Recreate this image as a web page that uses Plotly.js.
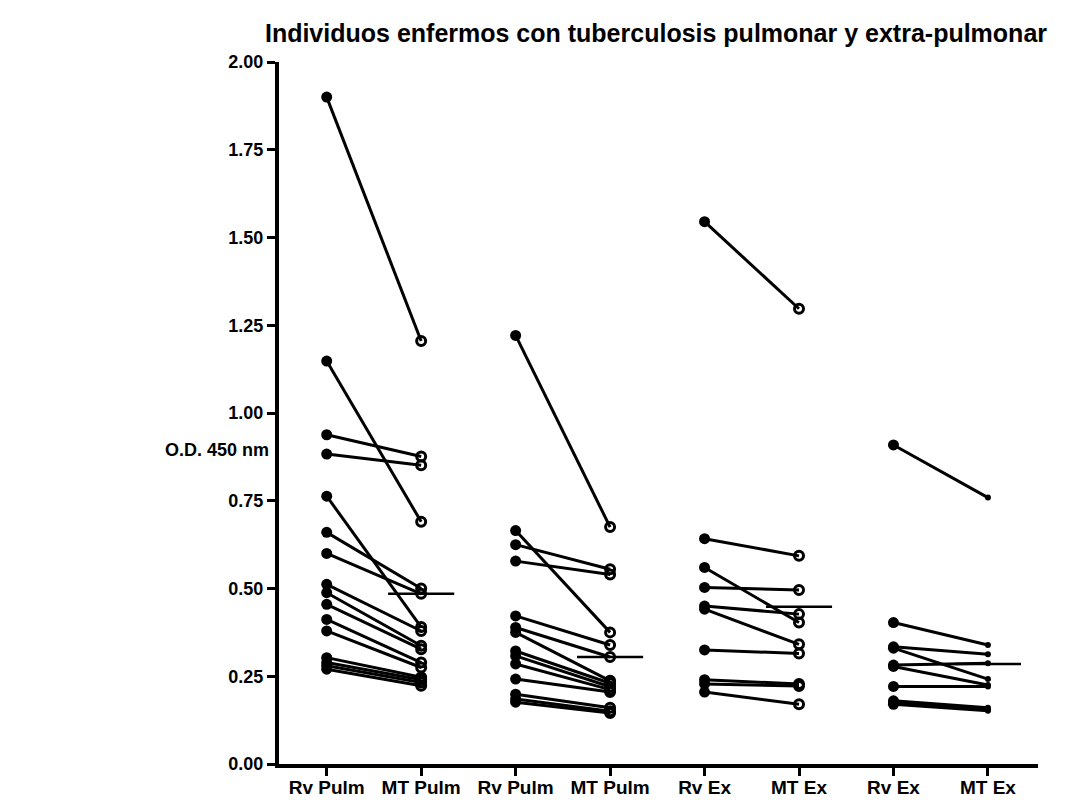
<!DOCTYPE html>
<html>
<head>
<meta charset="utf-8">
<script src="https://cdn.plot.ly/plotly-3.0.1.min.js"></script>
<style>html,body{margin:0;padding:0;background:#fff;}#chart{width:1071px;height:800px;}</style>
</head>
<body>
<div id="chart"></div>
<script>
// Category tick labels (8 positions, 4 paired groups)
const tickLabels = ["Rv Pulm", "MT Pulm", "Rv Pulm", "MT Pulm", "Rv Ex", "MT Ex", "Rv Ex", "MT Ex"];

// Group 1: pulmonary, Rv Pulm -> MT Pulm
const g1Rv = [1.900, 1.148, 0.938, 0.883, 0.763, 0.660, 0.600, 0.512, 0.488, 0.455, 0.412, 0.379, 0.303, 0.289, 0.280, 0.270];
const g1MT = [1.205, 0.690, 0.876, 0.851, 0.390, 0.500, 0.485, 0.379, 0.337, 0.327, 0.289, 0.275, 0.247, 0.240, 0.232, 0.223];

// Group 2: pulmonary, Rv Pulm -> MT Pulm
const g2Rv = [1.221, 0.665, 0.625, 0.578, 0.422, 0.389, 0.375, 0.322, 0.308, 0.285, 0.242, 0.199, 0.185, 0.176];
const g2MT = [0.675, 0.375, 0.555, 0.540, 0.339, 0.305, 0.237, 0.230, 0.220, 0.212, 0.205, 0.160, 0.150, 0.145];

// Group 3: extra-pulmonary, Rv Ex -> MT Ex
const g3Rv = [1.545, 0.642, 0.560, 0.503, 0.450, 0.441, 0.325, 0.240, 0.228, 0.205];
const g3MT = [1.297, 0.593, 0.403, 0.496, 0.427, 0.341, 0.315, 0.228, 0.222, 0.170];

// Group 4: extra-pulmonary, Rv Ex -> MT Ex
const g4Rv = [0.909, 0.403, 0.334, 0.330, 0.282, 0.278, 0.221, 0.180, 0.174, 0.170];
const g4MT = [0.759, 0.339, 0.313, 0.242, 0.287, 0.225, 0.221, 0.160, 0.155, 0.152];

// Mean line values drawn at each MT column
const meanValues = [0.485, 0.305, 0.448, 0.285];

const groups = [[g1Rv, g1MT], [g2Rv, g2MT], [g3Rv, g3MT], [g4Rv, g4MT]];
const mtMarkerSize = [9, 9, 9, 3];
const meanHalfWidth = 0.35;

const traces = [];
groups.forEach((g, gi) => {
  const xRv = 2 * gi, xMT = 2 * gi + 1;
  g[0].forEach((v, i) => {
    traces.push({
      type: 'scatter', mode: 'lines+markers',
      x: [xRv, xMT], y: [v, g[1][i]],
      line: {color: '#000', width: 3},
      marker: {
        symbol: ['circle', 'circle-open'],
        size: [11, mtMarkerSize[gi]],
        color: '#000',
        opacity: 1,
        line: {color: '#000', width: [0, 3]}
      },
      opacity: 1,
      showlegend: false, hoverinfo: 'y'
    });
  });
});
meanValues.forEach((m, gi) => {
  const xc = 2 * gi + 1;
  traces.push({
    type: 'scatter', mode: 'lines',
    x: [xc - meanHalfWidth, xc + meanHalfWidth], y: [m, m],
    line: {color: '#000', width: 2.5},
    showlegend: false, hoverinfo: 'y'
  });
});

const fontFam = 'Arial, "Liberation Sans", sans-serif';
const layout = {
  width: 1071, height: 800,
  margin: {l: 279, r: 33, t: 62, b: 36},
  paper_bgcolor: '#fff', plot_bgcolor: '#fff',
  font: {family: fontFam, color: '#000'},
  title: {
    text: 'Individuos enfermos con tuberculosis pulmonar y extra-pulmonar',
    font: {family: fontFam, size: 25, weight: 700, color: '#000'},
    xref: 'container', yref: 'container',
    x: 0.6125, xanchor: 'center', y: 0.959, yanchor: 'middle'
  },
  xaxis: {
    range: [-0.505, 7.53],
    tickmode: 'array', tickvals: tickLabels.map((_, i) => i), ticktext: tickLabels,
    showgrid: false, zeroline: false,
    showline: true, linecolor: '#000', linewidth: 4,
    ticks: 'outside', ticklen: 8, tickwidth: 3, tickcolor: '#000',
    ticklabelstandoff: -5,
    tickfont: {family: fontFam, size: 19, weight: 700, color: '#000'}
  },
  yaxis: {
    range: [0, 2.0],
    tickmode: 'linear', tick0: 0, dtick: 0.25, tickformat: '.2f',
    showgrid: false, zeroline: false,
    showline: true, linecolor: '#000', linewidth: 4,
    ticks: 'outside', ticklen: 8, tickwidth: 3, tickcolor: '#000',
    tickfont: {family: fontFam, size: 18, weight: 700, color: '#000'}
  },
  annotations: [{
    text: 'O.D. 450 nm', xref: 'paper', yref: 'paper',
    x: -0.0817, y: 0.447, xanchor: 'center', yanchor: 'middle', showarrow: false,
    font: {family: fontFam, size: 18, weight: 700, color: '#000'}
  }]
};

Plotly.newPlot('chart', traces, layout, {displayModeBar: false, staticPlot: true});
</script>
</body>
</html>
